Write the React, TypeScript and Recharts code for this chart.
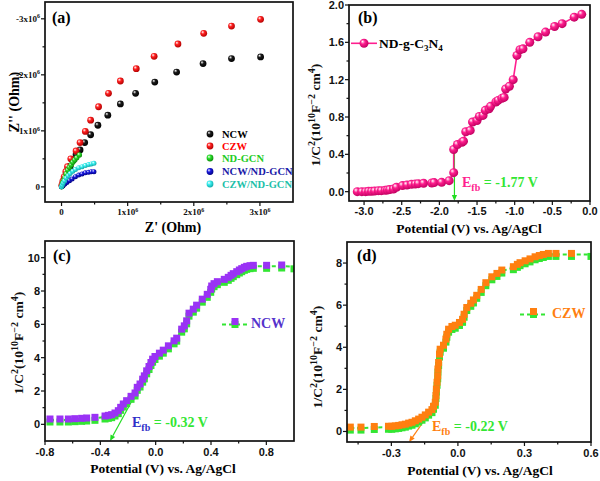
import React from "react";
import { ComposedChart, Scatter, XAxis, YAxis, ReferenceLine } from "recharts";

// ---- (a) Nyquist plot, Z' and -Z'' in 10^6 Ohm ----
const ncwZre = [0.01, 0.03, 0.06, 0.09, 0.13, 0.17, 0.22, 0.28, 0.35, 0.44, 0.55, 0.7, 0.89, 1.12, 1.41, 1.74, 2.14, 2.57, 3.01];
const ncwZim = [0.03, 0.1, 0.19, 0.27, 0.37, 0.47, 0.58, 0.66, 0.79, 0.93, 1.1, 1.28, 1.48, 1.67, 1.87, 2.05, 2.2, 2.29, 2.32];
const czwZre = [0.005, 0.02, 0.04, 0.065, 0.09, 0.14, 0.22, 0.28, 0.36, 0.44, 0.56, 0.71, 0.89, 1.13, 1.4, 1.76, 2.15, 2.57, 3.01];
const czwZim = [0.03, 0.1, 0.18, 0.27, 0.36, 0.5, 0.64, 0.79, 0.99, 1.19, 1.43, 1.67, 1.89, 2.11, 2.33, 2.55, 2.74, 2.87, 2.99];
const gcnZre = [0, 0.01, 0.02, 0.035, 0.05, 0.07, 0.095, 0.12, 0.145, 0.17, 0.2, 0.23, 0.27];
const gcnZim = [0, 0.04, 0.08, 0.12, 0.16, 0.23, 0.3, 0.35, 0.39, 0.44, 0.48, 0.52, 0.57];
const ncwGcnZre = [0, 0.02, 0.05, 0.08, 0.12, 0.16, 0.21, 0.26, 0.31, 0.36, 0.41, 0.45, 0.49];
const ncwGcnZim = [0, 0.02, 0.05, 0.08, 0.11, 0.14, 0.18, 0.21, 0.23, 0.25, 0.26, 0.27, 0.27];
const czwGcnZre = [0, 0.01, 0.025, 0.045, 0.07, 0.1, 0.13, 0.17, 0.21, 0.26, 0.31, 0.36, 0.41, 0.45, 0.49];
const czwGcnZim = [0, 0.03, 0.07, 0.11, 0.16, 0.2, 0.24, 0.28, 0.31, 0.34, 0.36, 0.38, 0.4, 0.41, 0.42];

// ---- (b) Mott-Schottky ND-g-C3N4 ----
const bPotential = [-3.09, -3.03, -2.98, -2.94, -2.9, -2.86, -2.81, -2.77, -2.72, -2.69, -2.66, -2.61, -2.57, -2.49, -2.43, -2.37, -2.32, -2.28, -2.21, -2.1, -2.07, -1.97, -1.87, -1.81, -1.81, -1.76, -1.7, -1.68, -1.65, -1.59, -1.56, -1.5, -1.47, -1.42, -1.39, -1.34, -1.32, -1.25, -1.22, -1.17, -1.14, -1.12, -1.07, -1.02, -0.97, -0.93, -0.89, -0.8, -0.69, -0.59, -0.47, -0.37, -0.21, -0.11];
const bInvC2 = [0, 0, 0, 0.004, 0.004, 0.007, 0.011, 0.011, 0.014, 0.018, 0.022, 0.029, 0.047, 0.065, 0.072, 0.079, 0.082, 0.086, 0.09, 0.093, 0.097, 0.1, 0.118, 0.204, 0.452, 0.505, 0.53, 0.541, 0.642, 0.656, 0.746, 0.763, 0.806, 0.817, 0.871, 0.889, 0.914, 0.961, 0.978, 1.0, 1.01, 1.1, 1.13, 1.2, 1.46, 1.52, 1.53, 1.6, 1.66, 1.71, 1.77, 1.8, 1.87, 1.9];
const bEfb = -1.8;
const bArrowTop = 0.47;

// ---- (c) Mott-Schottky NCW ----
const cPotential = [-0.764, -0.692, -0.631, -0.583, -0.535, -0.499, -0.439, -0.366, -0.342, -0.318, -0.294, -0.27, -0.253, -0.234, -0.21, -0.178, -0.149, -0.133, -0.113, -0.094, -0.082, -0.065, -0.048, -0.034, -0.022, -0.005, 0.027, 0.055, 0.092, 0.133, 0.152, 0.188, 0.207, 0.224, 0.241, 0.272, 0.296, 0.337, 0.373, 0.398, 0.405, 0.422, 0.446, 0.496, 0.525, 0.545, 0.561, 0.586, 0.605, 0.622, 0.641, 0.658, 0.682, 0.706, 0.802, 0.911];
const cInvC2 = [0.26, 0.26, 0.26, 0.28, 0.3, 0.32, 0.36, 0.44, 0.48, 0.52, 0.62, 0.76, 0.96, 1.16, 1.36, 1.62, 1.82, 2.16, 2.36, 2.65, 2.85, 3.15, 3.41, 3.65, 3.85, 4.01, 4.21, 4.39, 4.65, 4.95, 5.11, 5.65, 5.85, 6.15, 6.61, 6.85, 7.09, 7.45, 7.74, 8.04, 8.24, 8.38, 8.5, 8.64, 8.76, 8.88, 8.98, 9.1, 9.2, 9.28, 9.36, 9.42, 9.46, 9.48, 9.48, 9.5];
const cTail = { x: 1.0, y: 9.45 };
const cArrow = [{ x: -0.12, y: 2.2 }, { x: -0.33, y: -1 }];

// ---- (d) Mott-Schottky CZW ----
const dPotential = [-0.485, -0.437, -0.377, -0.313, -0.298, -0.282, -0.267, -0.252, -0.237, -0.222, -0.207, -0.192, -0.177, -0.162, -0.147, -0.132, -0.117, -0.11, -0.102, -0.099, -0.097, -0.094, -0.091, -0.09, -0.087, -0.083, -0.08, -0.065, -0.054, -0.05, -0.042, -0.027, -0.012, 0.007, 0.021, 0.028, 0.04, 0.058, 0.07, 0.085, 0.105, 0.126, 0.153, 0.176, 0.198, 0.25, 0.268, 0.28, 0.303, 0.325, 0.348, 0.367, 0.385, 0.408, 0.442, 0.512];
const dInvC2 = [0.16, 0.16, 0.19, 0.2, 0.2, 0.22, 0.24, 0.27, 0.3, 0.35, 0.39, 0.46, 0.54, 0.63, 0.74, 0.87, 0.99, 1.15, 1.34, 1.66, 1.97, 2.29, 2.6, 2.92, 3.23, 3.63, 3.86, 4.05, 4.34, 4.57, 4.81, 4.94, 5.0, 5.13, 5.28, 5.52, 5.84, 6.04, 6.2, 6.42, 6.7, 7.02, 7.3, 7.46, 7.62, 7.78, 7.89, 7.97, 8.06, 8.15, 8.25, 8.31, 8.36, 8.41, 8.41, 8.41];
const dTail = { x: 0.6, y: 8.41 };
const dArrow = [{ x: -0.14, y: 0.7 }, { x: -0.22, y: -0.5 }];

// tick positions
const aTicks = [0, 0.5, 1, 1.5, 2, 2.5, 3];
const aMajors = [0, 1, 2, 3];
const bTicksX = [-3, -2.75, -2.5, -2.25, -2, -1.75, -1.5, -1.25, -1, -0.75, -0.5, -0.25, 0];
const bMajorsX = [-3, -2.5, -2, -1.5, -1, -0.5, 0];
const bTicksY = [0, 0.2, 0.4, 0.6, 0.8, 1.0, 1.2, 1.4, 1.6, 1.8, 2.0];
const bMajorsY = [0, 0.4, 0.8, 1.2, 1.6, 2.0];
const cTicksX = [-0.8, -0.6, -0.4, -0.2, 0, 0.2, 0.4, 0.6, 0.8];
const cMajorsX = [-0.8, -0.4, 0, 0.4, 0.8];
const cTicksY = [0, 1, 2, 3, 4, 5, 6, 7, 8, 9, 10];
const cMajorsY = [0, 2, 4, 6, 8, 10];
const dTicksX = [-0.45, -0.3, -0.15, 0, 0.15, 0.3, 0.45, 0.6];
const dMajorsX = [-0.3, 0, 0.3, 0.6];
const dTicksY = [0, 1, 2, 3, 4, 5, 6, 7, 8];
const dMajorsY = [0, 2, 4, 6, 8];

// panel layout: where each 300x240 panel sits and where its plot box is inside it
const PANEL_W = 300;
const PANEL_H = 240;
type Box = { left: number; top: number; plotL: number; plotT: number; plotW: number; plotH: number };
const BOX_A: Box = { left: 0, top: 0, plotL: 45, plotT: 2, plotW: 248, plotH: 200 };
const BOX_B: Box = { left: 300, top: 0, plotL: 49, plotT: 5, plotW: 241, plotH: 196 };
const BOX_C: Box = { left: 0, top: 240, plotL: 45, plotT: 1, plotW: 249, plotH: 200 };
const BOX_D: Box = { left: 300, top: 240, plotL: 47, plotT: 2, plotW: 244, plotH: 200 };
const marginOf = (b: Box) => ({ top: b.plotT, right: PANEL_W - b.plotL - b.plotW, left: 0, bottom: 0 });
const xAxisH = (b: Box) => PANEL_H - b.plotT - b.plotH;

const SERIF = "'Liberation Serif', 'Times New Roman', serif";
const SANS = "'Liberation Sans', Arial, sans-serif";
const INK = "#111111";
const GREEN = "#33e633";
const PINK = "#ff1f8f";
const VIOLET = "#9a32f5";
const ORANGE = "#ff7f10";

type Pt = { x: number; y: number };
const zip = (xs: number[], ys: number[]): Pt[] => xs.map((x, i) => ({ x, y: ys[i] }));

const BALLS = [
  { id: "ball-black", c: "#1a1a1a", d: "#000000" },
  { id: "ball-red", c: "#ff2020", d: "#b00000" },
  { id: "ball-green", c: "#2ee02e", d: "#0a8a0a" },
  { id: "ball-blue", c: "#1a1ae0", d: "#000080" },
  { id: "ball-cyan", c: "#3cf0f0", d: "#10a8a8" },
  { id: "ball-pink", c: PINK, d: "#c00060" },
];

const ball = (id: string, r: number) => (p: any) => (
  <circle cx={p.cx} cy={p.cy} r={r} fill={`url(#${id})`} />
);
const square = (fill: string, side: number, dy: number) => (p: any) => (
  <rect x={p.cx - side / 2} y={p.cy - side / 2 + dy} width={side} height={side} fill={fill} />
);

type TickOpts = { majors: number[]; fmt: (v: number) => React.ReactNode; font: string; size: number; gap: number };
const isMajor = (v: number, majors: number[]) => majors.some((m) => Math.abs(m - v) < 1e-6);

const xTick = (o: TickOpts) => (p: any) => {
  const v = p.payload.value as number;
  const major = isMajor(v, o.majors);
  const x = Number(p.x);
  const y = Number(p.y);
  return (
    <g>
      <rect x={x - 0.6} y={y} width={1.2} height={major ? 4 : 2.5} fill={INK} />
      {major && (
        <text x={x} y={y + o.gap} textAnchor="middle" fontFamily={o.font} fontWeight={700} fontSize={o.size} fill={INK}>
          {o.fmt(v)}
        </text>
      )}
    </g>
  );
};

const yTick = (o: TickOpts) => (p: any) => {
  const v = p.payload.value as number;
  const major = isMajor(v, o.majors);
  const x = Number(p.x);
  const y = Number(p.y);
  const len = major ? 4 : 2.5;
  return (
    <g>
      <rect x={x - len} y={y - 0.6} width={len} height={1.2} fill={INK} />
      {major && (
        <text x={x - o.gap} y={y} dy="0.35em" textAnchor="end" fontFamily={o.font} fontWeight={700} fontSize={o.size} fill={INK}>
          {o.fmt(v)}
        </text>
      )}
    </g>
  );
};

const sci = (sign: string) => (v: number) =>
  v === 0 ? "0" : (
    <>
      {`${sign}${v}x10`}
      <tspan dy={-3.5} fontSize={6}>6</tspan>
    </>
  );
const fix1 = (v: number) => (Math.abs(v) < 1e-9 ? "0.0" : v.toFixed(1));
const int0 = (v: number) => String(Math.round(v));

const arrowShape = (color: string) => (p: any) => {
  const { x1, y1, x2, y2 } = p;
  const ang = Math.atan2(y2 - y1, x2 - x1);
  const L = 6;
  const W = 2.6;
  const bx = x2 - L * Math.cos(ang);
  const by = y2 - L * Math.sin(ang);
  const pts = `${x2},${y2} ${bx + W * Math.sin(ang)},${by - W * Math.cos(ang)} ${bx - W * Math.sin(ang)},${by + W * Math.cos(ang)}`;
  return (
    <g>
      <line x1={x1} y1={y1} x2={bx} y2={by} stroke={color} strokeWidth={1.2} />
      <polygon points={pts} fill={color} />
    </g>
  );
};

function PanelA() {
  const xd: [number, number] = [-0.25, 3.5];
  const yd: [number, number] = [-0.27, 3.3];
  return (
    <ComposedChart width={PANEL_W} height={PANEL_H} margin={marginOf(BOX_A)}>
      <XAxis type="number" dataKey="x" domain={xd} allowDataOverflow ticks={aTicks} interval={0} height={xAxisH(BOX_A)}
        axisLine={false} tickLine={false} tickSize={0} tickMargin={0}
        tick={xTick({ majors: aMajors, fmt: sci(""), font: SERIF, size: 9, gap: 13 })} />
      <YAxis type="number" dataKey="y" domain={yd} allowDataOverflow ticks={aTicks} interval={0} width={BOX_A.plotL}
        axisLine={false} tickLine={false} tickSize={0} tickMargin={0}
        tick={yTick({ majors: aMajors, fmt: sci("-"), font: SERIF, size: 9, gap: 5 })} />
      <Scatter data={zip(ncwZre, ncwZim)} shape={ball("ball-black", 3.4)} isAnimationActive={false} />
      <Scatter data={zip(czwZre, czwZim)} shape={ball("ball-red", 3.4)} isAnimationActive={false} />
      <Scatter data={zip(gcnZre, gcnZim)} shape={ball("ball-green", 2.7)} isAnimationActive={false} />
      <Scatter data={zip(ncwGcnZre, ncwGcnZim)} shape={ball("ball-blue", 2.5)} isAnimationActive={false} />
      <Scatter data={zip(czwGcnZre, czwGcnZim)} shape={ball("ball-cyan", 2.5)} isAnimationActive={false} />
    </ComposedChart>
  );
}

function PanelB() {
  const xd: [number, number] = [-3.2, 0];
  const yd: [number, number] = [-0.1, 2.0];
  return (
    <ComposedChart width={PANEL_W} height={PANEL_H} margin={marginOf(BOX_B)}>
      <XAxis type="number" dataKey="x" domain={xd} allowDataOverflow ticks={bTicksX} interval={0} height={xAxisH(BOX_B)}
        axisLine={false} tickLine={false} tickSize={0} tickMargin={0}
        tick={xTick({ majors: bMajorsX, fmt: fix1, font: SANS, size: 11, gap: 14 })} />
      <YAxis type="number" dataKey="y" domain={yd} allowDataOverflow ticks={bTicksY} interval={0} width={BOX_B.plotL}
        axisLine={false} tickLine={false} tickSize={0} tickMargin={0}
        tick={yTick({ majors: bMajorsY, fmt: fix1, font: SANS, size: 11, gap: 5 })} />
      <Scatter data={zip(bPotential, bInvC2)} line={{ stroke: PINK, strokeWidth: 1.6 }} shape={ball("ball-pink", 4.5)} isAnimationActive={false} />
      <ReferenceLine segment={[{ x: bEfb, y: bArrowTop }, { x: bEfb, y: yd[0] }]} ifOverflow="visible" shape={arrowShape("#22dd22")} />
    </ComposedChart>
  );
}

function PanelC() {
  const xd: [number, number] = [-0.8, 1.0];
  const yd: [number, number] = [-1, 11];
  return (
    <ComposedChart width={PANEL_W} height={PANEL_H} margin={marginOf(BOX_C)}>
      <XAxis type="number" dataKey="x" domain={xd} allowDataOverflow ticks={cTicksX} interval={0} height={xAxisH(BOX_C)}
        axisLine={false} tickLine={false} tickSize={0} tickMargin={0}
        tick={xTick({ majors: cMajorsX, fmt: fix1, font: SANS, size: 11, gap: 15 })} />
      <YAxis type="number" dataKey="y" domain={yd} allowDataOverflow ticks={cTicksY} interval={0} width={BOX_C.plotL}
        axisLine={false} tickLine={false} tickSize={0} tickMargin={0}
        tick={yTick({ majors: cMajorsY, fmt: int0, font: SANS, size: 11, gap: 5 })} />
      <Scatter data={[...zip(cPotential, cInvC2), cTail]} line={{ stroke: GREEN, strokeWidth: 2, strokeDasharray: "4 3" }}
        shape={square(GREEN, 7, 2)} isAnimationActive={false} />
      <Scatter data={zip(cPotential, cInvC2)} shape={square(VIOLET, 7, -1)} isAnimationActive={false} />
      <ReferenceLine segment={cArrow} ifOverflow="visible" shape={arrowShape("#22dd22")} />
    </ComposedChart>
  );
}

function PanelD() {
  const xd: [number, number] = [-0.5, 0.6];
  const yd: [number, number] = [-0.5, 9.0];
  return (
    <ComposedChart width={PANEL_W} height={PANEL_H} margin={marginOf(BOX_D)}>
      <XAxis type="number" dataKey="x" domain={xd} allowDataOverflow ticks={dTicksX} interval={0} height={xAxisH(BOX_D)}
        axisLine={false} tickLine={false} tickSize={0} tickMargin={0}
        tick={xTick({ majors: dMajorsX, fmt: fix1, font: SANS, size: 11, gap: 15 })} />
      <YAxis type="number" dataKey="y" domain={yd} allowDataOverflow ticks={dTicksY} interval={0} width={BOX_D.plotL}
        axisLine={false} tickLine={false} tickSize={0} tickMargin={0}
        tick={yTick({ majors: dMajorsY, fmt: int0, font: SANS, size: 11, gap: 5 })} />
      <Scatter data={[...zip(dPotential, dInvC2), dTail]} line={{ stroke: GREEN, strokeWidth: 2, strokeDasharray: "4 3" }}
        shape={square(GREEN, 7, 2)} isAnimationActive={false} />
      <Scatter data={zip(dPotential, dInvC2)} shape={square(ORANGE, 7, -1)} isAnimationActive={false} />
      <ReferenceLine segment={dArrow} ifOverflow="visible" shape={arrowShape(ORANGE)} />
    </ComposedChart>
  );
}

// y-axis title 1/C^2(10^10 F^-2 cm^4), rotated
function CapTitle({ x, y }: { x: number; y: number }) {
  return (
    <text x={x} y={y} transform={`rotate(-90 ${x} ${y})`} textAnchor="middle" fontFamily={SERIF} fontWeight={700} fontSize={13.5} fill={INK}>
      1/C<tspan dy={-5} fontSize={10}>2</tspan>
      <tspan dy={5}>(10</tspan>
      <tspan dy={-5} fontSize={10}>10</tspan>
      <tspan dy={5}>F</tspan>
      <tspan dy={-5} fontSize={10}>−2</tspan>
      <tspan dy={5}> cm</tspan>
      <tspan dy={-5} fontSize={10}>4</tspan>
      <tspan dy={5}>)</tspan>
    </text>
  );
}

const bold = { fontFamily: SERIF, fontWeight: 700 } as const;

const aLegend = [
  { name: "NCW", ball: "ball-black", color: "#000000", y: 134 },
  { name: "CZW", ball: "ball-red", color: "#ff0000", y: 146 },
  { name: "ND-GCN", ball: "ball-green", color: "#22cc22", y: 158 },
  { name: "NCW/ND-GCN", ball: "ball-blue", color: "#1a1aa8", y: 171.5 },
  { name: "CZW/ND-GCN", ball: "ball-cyan", color: "#20c0a8", y: 184 },
];

function Overlay() {
  return (
    <svg width={600} height={481} style={{ position: "absolute", left: 0, top: 0, pointerEvents: "none" }}>
      {/* plot boxes */}
      {[BOX_A, BOX_B, BOX_C, BOX_D].map((b, i) => (
        <rect key={i} x={b.left + b.plotL} y={b.top + b.plotT} width={b.plotW} height={b.plotH}
          fill="none" stroke={INK} strokeWidth={1.7} />
      ))}

      {/* panel letters */}
      <text x={52} y={23} {...bold} fontSize={16}>(a)</text>
      <text x={358} y={23} {...bold} fontSize={16}>(b)</text>
      <text x={53} y={261} {...bold} fontSize={16}>(c)</text>
      <text x={357} y={261} {...bold} fontSize={16}>(d)</text>

      {/* axis titles */}
      <text x={19} y={102} transform="rotate(-90 19 102)" textAnchor="middle" {...bold} fontSize={14}>Z'' (Ohm)</text>
      <text x={173} y={232} textAnchor="middle" {...bold} fontSize={14}>Z' (Ohm)</text>
      <CapTitle x={320} y={115} />
      <text x={469} y={233} textAnchor="middle" {...bold} fontSize={13.5}>Potential (V) vs. Ag/AgCl</text>
      <CapTitle x={23} y={343} />
      <text x={163} y={473} textAnchor="middle" {...bold} fontSize={13.5}>Potential (V) vs. Ag/AgCl</text>
      <CapTitle x={322} y={357} />
      <text x={480} y={475} textAnchor="middle" {...bold} fontSize={13.5}>Potential (V) vs. Ag/AgCl</text>

      {/* (a) legend */}
      {aLegend.map((l) => (
        <g key={l.name}>
          <circle cx={210} cy={l.y} r={3.4} fill={`url(#${l.ball})`} />
          <text x={222} y={l.y + 3.6} {...bold} fontSize={10.5} fill={l.color}>{l.name}</text>
        </g>
      ))}

      {/* (b) legend */}
      <line x1={351} x2={377} y1={43.3} y2={43.3} stroke={PINK} strokeWidth={1.6} />
      <circle cx={364} cy={43.3} r={4.5} fill="url(#ball-pink)" />
      <text x={379} y={48} {...bold} fontSize={13.5}>
        ND-g-C<tspan dy={3} fontSize={9}>3</tspan><tspan dy={-3}>N</tspan><tspan dy={3} fontSize={9}>4</tspan>
      </text>

      {/* (c) legend */}
      <line x1={222} x2={248} y1={324.5} y2={324.5} stroke={GREEN} strokeWidth={2} strokeDasharray="4 3" />
      <rect x={231.5} y={321} width={7} height={7} fill={GREEN} />
      <rect x={231.5} y={318} width={7} height={7} fill={VIOLET} />
      <text x={251} y={328} {...bold} fontSize={14} fill="#5533cc">NCW</text>

      {/* (d) legend */}
      <line x1={520} x2={547} y1={314.5} y2={314.5} stroke={GREEN} strokeWidth={2} strokeDasharray="4 3" />
      <rect x={530} y={311} width={7} height={7} fill={GREEN} />
      <rect x={530} y={308} width={7} height={7} fill={ORANGE} />
      <text x={552} y={318} {...bold} fontSize={14} fill={ORANGE}>CZW</text>

      {/* flat-band annotations */}
      <text x={462} y={187} {...bold} fontSize={14}>
        <tspan fill={PINK}>E</tspan><tspan fill={PINK} fontSize={10} dy={4}>fb</tspan><tspan fill={GREEN} dy={-4}> = -1.77 V</tspan>
      </text>
      <text x={132} y={427} {...bold} fontSize={14}>
        <tspan fill="#2f2fc8">E</tspan><tspan fill="#2f2fc8" fontSize={10} dy={4}>fb</tspan><tspan fill={GREEN} dy={-4}> = -0.32 V</tspan>
      </text>
      <text x={432} y={431} {...bold} fontSize={14}>
        <tspan fill={ORANGE}>E</tspan><tspan fill={ORANGE} fontSize={10} dy={4}>fb</tspan><tspan fill={GREEN} dy={-4}> = -0.22 V</tspan>
      </text>
    </svg>
  );
}

export default function App() {
  return (
    <div style={{ position: "fixed", left: 0, top: 0, width: 600, height: 481, background: "#ffffff", overflow: "hidden" }}>
      <svg width={0} height={0} style={{ position: "absolute" }}>
        <defs>
          {BALLS.map((b) => (
            <radialGradient key={b.id} id={b.id} cx="0.42" cy="0.4" r="0.62" fx="0.33" fy="0.3">
              <stop offset="0" stopColor="#ffffff" />
              <stop offset="0.4" stopColor={b.c} />
              <stop offset="1" stopColor={b.d} />
            </radialGradient>
          ))}
        </defs>
      </svg>
      <div style={{ position: "absolute", left: BOX_A.left, top: BOX_A.top }}><PanelA /></div>
      <div style={{ position: "absolute", left: BOX_B.left, top: BOX_B.top }}><PanelB /></div>
      <div style={{ position: "absolute", left: BOX_C.left, top: BOX_C.top }}><PanelC /></div>
      <div style={{ position: "absolute", left: BOX_D.left, top: BOX_D.top }}><PanelD /></div>
      <Overlay />
    </div>
  );
}
